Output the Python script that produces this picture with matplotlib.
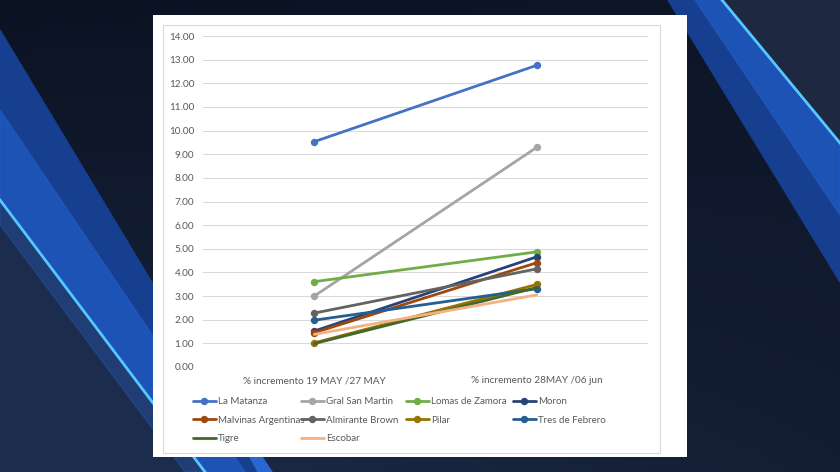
import matplotlib
matplotlib.use('Agg')
import matplotlib.pyplot as plt
from matplotlib.patches import Polygon, Rectangle
from matplotlib.colors import LinearSegmentedColormap
import numpy as np

# data
categories = ['% incremento 19 MAY /27 MAY', '% incremento 28MAY /06 jun']
y_ticks = np.arange(0, 15, 1)

series_names = ['La Matanza', 'Gral San Martin', 'Lomas de Zamora', 'Moron',
                'Malvinas Argentinas', 'Almirante Brown', 'Pilar',
                'Tres de Febrero', 'Tigre', 'Escobar']
la_matanza = [9.53, 12.76]
gral_san_martin = [3.00, 9.29]
lomas_de_zamora = [3.61, 4.87]
moron = [1.52, 4.66]
malvinas_argentinas = [1.45, 4.41]
almirante_brown = [2.28, 4.15]
pilar = [1.02, 3.49]
tres_de_febrero = [1.98, 3.31]
tigre = [0.99, 3.36]
escobar = [1.38, 3.05]

series_values = [la_matanza, gral_san_martin, lomas_de_zamora, moron,
                 malvinas_argentinas, almirante_brown, pilar,
                 tres_de_febrero, tigre, escobar]
colors = ['#4472C4', '#A5A5A5', '#70AD47', '#264478', '#9E480E',
          '#636363', '#997300', '#255E91', '#43682B', '#F4B183']
markers = ['o', 'o', 'o', 'o', 'o', 'o', 'o', 'o', None, None]

W, H = 840, 472
plt.rcParams['font.family'] = ['Lato', 'DejaVu Sans']

fig = plt.figure(figsize=(W / 100, H / 100), dpi=100)

# background picture (pixel coordinates)
bg = fig.add_axes([0, 0, 1, 1], zorder=-10)
bg.set_xlim(0, W)
bg.set_ylim(H, 0)
bg.axis('off')
navy = LinearSegmentedColormap.from_list('navy', ['#0b1222', '#131d33', '#223150'])
gy, gx = np.mgrid[0:1:120j, 0:1:200j]
grad = np.clip(0.9 * gy * (1 - 0.6 * gx) + 0.15 * gx, 0, 1)
bg.imshow(grad, extent=[0, W, H, 0], cmap=navy, vmin=0, vmax=1,
          aspect='auto', zorder=0)

# left streaks: blue band between a faint edge and a bright line
bg.add_patch(Polygon([[0, 200], [205, 472], [0, 472]], closed=True,
                     color='#1c2c4d', zorder=2))
bg.add_patch(Polygon([[0, 30], [0, 200], [205, 472], [266, 472]], closed=True,
                     color='#163f90', zorder=2))
bg.add_patch(Polygon([[0, 110], [0, 200], [205, 472], [245, 472]], closed=True,
                     color='#1f5cc6', alpha=0.7, zorder=2))
bg.add_patch(Polygon([[0, 200], [0, 225], [185, 472], [205, 472]], closed=True,
                     color='#2a5fc0', alpha=0.35, zorder=2))
bg.plot([0, 205], [200, 472], color='#55c8ff', lw=2.0, zorder=3)
bg.add_patch(Polygon([[250, 457], [262, 457], [272, 472], [258, 472]], closed=True,
                     color='#2a66d0', zorder=3))

# right streaks
bg.add_patch(Polygon([[722, 0], [W, 0], [W, 143]], closed=True,
                     color='#1e2840', zorder=2))
bg.add_patch(Polygon([[668, 0], [722, 0], [W, 143], [W, 282]], closed=True,
                     color='#163f90', zorder=2))
bg.add_patch(Polygon([[695, 0], [722, 0], [W, 143], [W, 215]], closed=True,
                     color='#1f5cc6', alpha=0.7, zorder=2))
bg.plot([722, W], [0, 143], color='#55c8ff', lw=2.0, zorder=3)

# white chart panel
bg.add_patch(Rectangle((153, 15), 534, 442, facecolor='white',
                       edgecolor='none', zorder=5))
bg.add_patch(Rectangle((163, 25), 497, 428, facecolor='none',
                       edgecolor='#d9d9d9', lw=0.8, zorder=6))

# chart
ax = fig.add_axes([203 / W, 1 - 367 / H, 445 / W, 331 / H])
ax.set_facecolor('none')
x = np.arange(len(categories))
lines = []
for name, vals, c, m in zip(series_names, series_values, colors, markers):
    ln, = ax.plot(x, vals, color=c, lw=2.0, marker=m, markersize=4.3,
                  label=name, solid_capstyle='round')
    lines.append(ln)

ax.set_xlim(-0.5, 1.5)
ax.set_ylim(0, 14)
ax.set_yticks(y_ticks)
ax.set_yticklabels(['%.2f' % v for v in y_ticks])
ax.set_xticks(x)
ax.set_xticklabels(categories)
ax.grid(axis='y', color='#d9d9d9', lw=0.75)
ax.set_axisbelow(True)
for s in ax.spines.values():
    s.set_visible(False)
ax.tick_params(length=0, labelsize=7.2, labelcolor='#595959')
ax.tick_params(axis='y', pad=6.3)
ax.tick_params(axis='x', pad=6.6)

# legend, one block per column as in the original
col_x = [193, 301, 406, 513]
for c in range(4):
    hs = lines[c::4]
    leg = fig.legend(handles=hs, labels=[h.get_label() for h in hs],
                     loc='upper left', bbox_to_anchor=(col_x[c] / W, 1 - 397 / H),
                     frameon=False, fontsize=7.0, handlelength=2.35,
                     handletextpad=0.2, labelspacing=1.0, borderpad=0,
                     borderaxespad=0)
    for t in leg.get_texts():
        t.set_color('#595959')

fig.savefig('out.png', dpi=100)
